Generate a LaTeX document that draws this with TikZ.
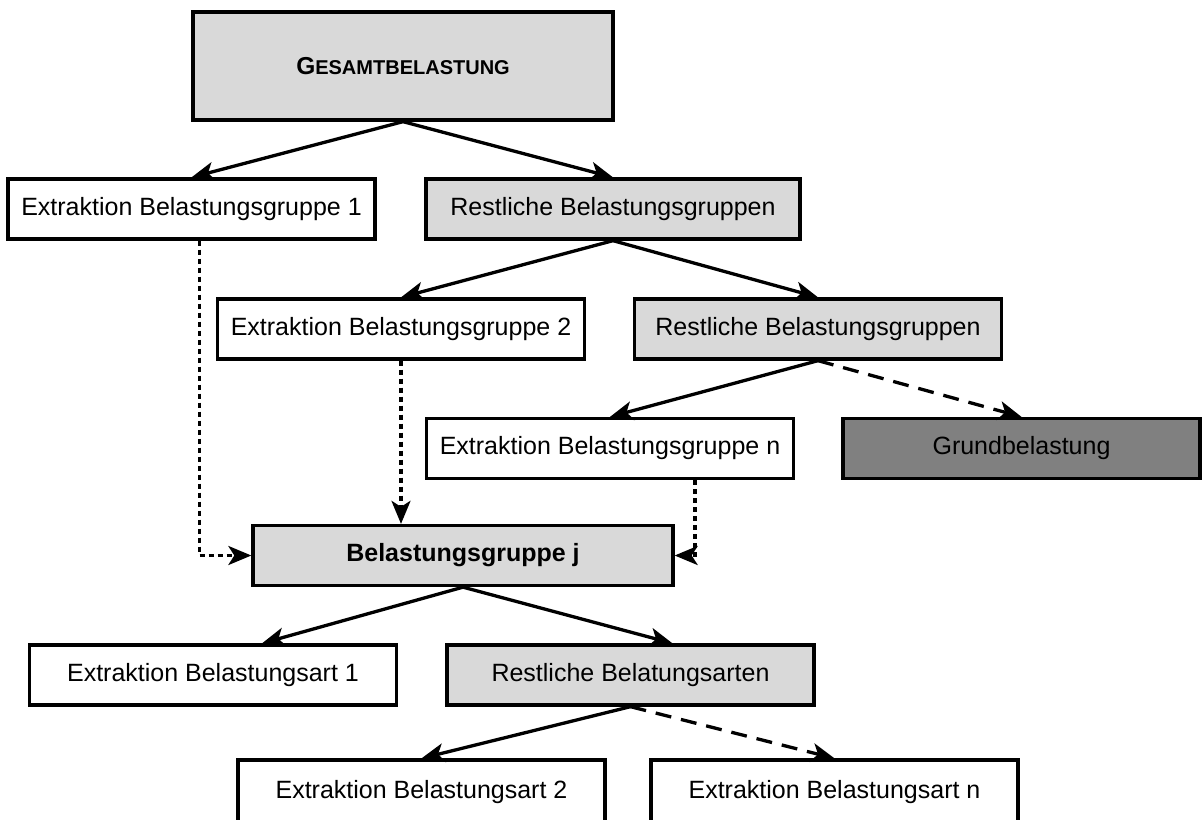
\documentclass[tikz,border=0pt]{standalone}
\usepackage{fontspec}
\setmainfont{Liberation Sans}
\usetikzlibrary{arrows.meta}

\definecolor{lightfill}{HTML}{D9D9D9}
\definecolor{darkfill}{HTML}{808080}

\begin{document}
\begin{tikzpicture}[x=1pt, y=-1pt, line width=3.3pt,
    box/.style = {draw, rectangle, minimum width=367pt, minimum height=60pt, inner sep=0pt, font=\fontsize{25}{30}\selectfont},
    restbox/.style = {box, fill=lightfill},
    solidarrow/.style = {-{Stealth[length=23pt, width=19pt, inset=6pt]}},
    dashedarrow/.style = {solidarrow, dash pattern=on 16pt off 10pt},
    dottedarrow/.style = {solidarrow, dash pattern=on 5pt off 4pt}]
    \useasboundingbox (0,0) rectangle (1204,819);
    % Stufe 1: Belastungsgruppen
    \node[restbox, minimum width=420pt, minimum height=108pt] (gesamt) at (403,66) {\fontsize{24.5}{28}\selectfont\bfseries G\fontsize{20}{24}\selectfont ESAMTBELASTUNG};
    \node[box] (ex1) at (191.5,209) {Extraktion Belastungsgruppe 1};
    \node[restbox, minimum width=374pt] (rest1) at (613,209) {Restliche Belastungsgruppen};
    \node[box] (ex2) at (401,329) {Extraktion Belastungsgruppe 2};
    \node[restbox] (rest2) at (818,329) {Restliche Belastungsgruppen};
    \node[box] (exn) at (610,448.5) {Extraktion Belastungsgruppe n};
    \node[box, fill=darkfill, minimum width=357pt] (grund) at (1021.5,448.5) {Grundbelastung};
    \node[restbox, minimum width=420pt] (bj) at (463,555.5) {\bfseries Belastungsgruppe j};
    % Stufe 2: Belastungsarten
    \node[box] (exa1) at (213,675) {Extraktion Belastungsart 1};
    \node[restbox] (resta) at (630.5,675) {Restliche Belatungsarten};
    \node[box, minimum height=64pt] (exa2) at (421.5,792) {Extraktion Belastungsart 2};
    \node[box, minimum height=64pt] (exan) at (834.5,792) {Extraktion Belastungsart n};
    \draw[solidarrow] (gesamt.south) -- (ex1.north);
    \draw[solidarrow] (gesamt.south) -- (rest1.north);
    \draw[solidarrow] (rest1.south) -- (ex2.north);
    \draw[solidarrow] (rest1.south) -- (rest2.north);
    \draw[solidarrow] (rest2.south) -- (exn.north);
    \draw[dashedarrow] (rest2.south) -- (grund.north);
    \draw[dottedarrow] ([xshift=8pt]ex1.south) |- (bj.west);
    \draw[dottedarrow] (ex2.south) -- (ex2.south |- bj.north);
    \draw[dottedarrow] ([xshift=85pt]exn.south) |- (bj.east);
    \draw[solidarrow] (bj.south) -- ([xshift=49pt]exa1.north);
    \draw[solidarrow] (bj.south) -- ([xshift=42pt]resta.north);
    \draw[solidarrow] (resta.south) -- (exa2.north);
    \draw[dashedarrow] (resta.south) -- (exan.north);
\end{tikzpicture}
\end{document}
